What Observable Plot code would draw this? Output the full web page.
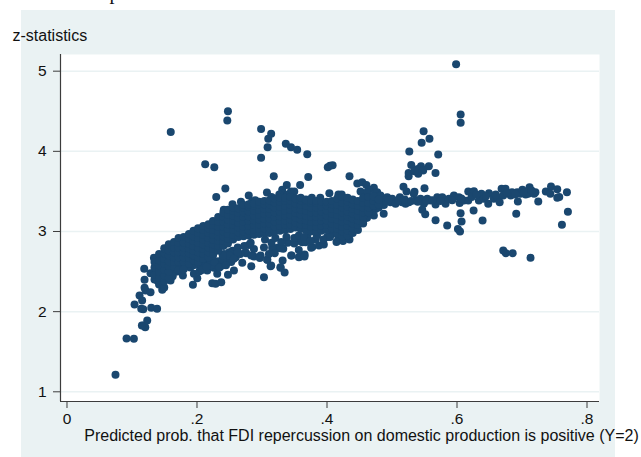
<!DOCTYPE html>
<html>
<head>
<meta charset="utf-8">
<script src="https://cdn.jsdelivr.net/npm/d3@7"></script>
<script src="https://cdn.jsdelivr.net/npm/@observablehq/plot@0.6"></script>
<style>
html,body{margin:0;padding:0;background:#fff;overflow:hidden}
#panel{position:absolute;left:21px;top:10px;width:594px;height:447px;background:#eaf2f3}
#chart{position:absolute;left:0;top:0}
#chart svg{background:transparent;display:block}
</style>
</head>
<body>
<div id="panel"></div>
<div id="chart"></div>
<script>
const yTicks = [1, 2, 3, 4, 5];
const xTicks = [0, 0.2, 0.4, 0.6, 0.8];
const xTitle = "Predicted prob. that FDI repercussion on domestic production is positive (Y=2)";
const yTitle = "z-statistics";

// isolated points above the main cloud
const upperPoints = [[.155,4.24],[.243,4.50],[.242,4.385],[.294,4.28],[.3095,4.22],[.305,4.157],[.304,4.05],[.294,3.92],
[.332,4.094],[.34,4.05],[.3495,4.02],[.365,3.965],[.208,3.84],[.222,3.80],[.3135,3.69],[.3665,3.68],[.239,3.535],[.225,3.43],
[.275,3.45],[.303,3.487],[.3335,3.58],[.3265,3.52],[.354,3.58],[.3265,3.48],[.34,3.5],[.345,3.5],[.2366,3.27],[.28,3.37],
[.594,5.087],[.601,4.46],[.601,4.356],[.544,4.25],[.553,4.157],[.541,4.107],[.522,3.998],[.5665,3.96],[.525,3.83],[.54,3.815],
[.535,3.78],[.552,3.815],[.5434,3.76],[.5623,3.73],[.521,3.73],[.521,3.69],[.5357,3.72],[.53,3.75],[.40,3.82],[.3966,3.80],[.404,3.825],
[.43,3.69],[.442,3.6],[.4495,3.615],[.456,3.58],[.4675,3.545],[.399,3.478],[.513,3.557],[.5177,3.5],[.5454,3.54],[.53,3.495],
[.413,3.46],[.418,3.46],[.447,3.5],[.46,3.52],[.47,3.48],[.25,3.34],[.263,3.37],[.285,3.39],[.31,3.43],[.322,3.46],[.335,3.46],[.372,3.42],[.385,3.42]];

// thin band on the right
const rightBand = [[.457,3.49],[.462,3.428],[.4726,3.49],[.4777,3.449],[.4829,3.387],[.488,3.428],[.493,3.366],[.4957,3.407],[.5008,3.345],
[.5075,3.428],[.511,3.366],[.5162,3.345],[.5213,3.366],[.529,3.47],[.5316,3.387],[.5393,3.407],[.5444,3.345],[.5496,3.407],[.5547,3.387],
[.5624,3.337],[.565,3.428],[.5727,3.428],[.5778,3.345],[.583,3.407],[.5906,3.449],[.5983,3.428],[.5995,3.355],[.606,3.387],[.6127,3.387],
[.6127,3.499],[.6214,3.503],[.629,3.387],[.633,3.47],[.6368,3.407],[.6434,3.345],[.6445,3.478],[.652,3.407],[.6573,3.428],[.661,3.366],
[.664,3.532],[.67,3.532],[.6665,3.449],[.678,3.449],[.68,3.49],[.688,3.49],[.689,3.374],[.693,3.47],[.696,3.52],[.701,3.461],[.707,3.553],
[.705,3.47],[.716,3.49],[.714,3.47],[.7204,3.374],[.732,3.5],[.74,3.561],[.739,3.47],[.7496,3.528],[.7496,3.42],[.7527,3.43],[.7645,3.49],
[.49,3.39],[.505,3.39],[.515,3.4],[.525,3.38],[.535,3.37],[.548,3.38],[.558,3.39],[.57,3.38],[.588,3.39],[.602,3.41],[.618,3.43],[.625,3.46],[.64,3.44],[.655,3.46],[.672,3.48],[.685,3.46],[.698,3.49],[.71,3.51]];

// isolated points below the right band
const lowerRight = [[.5419,3.27],[.5465,3.216],[.5624,3.141],[.5803,3.075],[.5968,3.03],[.6,3.0],[.6009,3.229],[.6024,3.125],[.6209,3.262],
[.6347,3.137],[.6865,3.22],[.766,3.245],[.7568,3.083],[.6665,2.763],[.6705,2.73],[.681,2.73],[.7085,2.672],[.47,3.28],[.4826,3.22],[.4675,3.2],[.452,3.15],[.457,3.17],[.475,3.3],[.483,3.33],[.46,3.25]];

// sparse tail and lower fringe of the cloud
const lowerFringe = [[.07,1.212],[.087,1.665],[.0983,1.661],[.1132,1.827],[.1158,1.806],[.1188,1.89],[.1106,1.827],[.125,2.048],[.134,2.035],
[.0993,2.089],[.1096,2.035],[.1127,2.031],[.107,2.2],[.111,2.139],[.1147,2.297],[.1163,2.264],[.1239,2.243],[.1147,2.397],[.1142,2.534],
[.1239,2.48],[.1291,2.672],[.1419,2.272],[.1342,2.389],[.1393,2.347],[.1547,2.389],[.1599,2.493],[.1737,2.451],[.1891,2.335],[.1958,2.418],
[.1906,2.472],[.1994,2.505],[.2112,2.513],[.2189,2.355],[.224,2.347],[.2327,2.368],[.2265,2.472],[.2214,2.547],[.2342,2.576],[.243,2.459],
[.2522,2.513],[.265,2.609],[.2789,2.567],[.2984,2.43],[.3086,2.567],[.3035,2.646],[.324,2.547],[.3302,2.488],[.3271,2.638],[.2932,2.7],
[.2984,2.8],[.2702,2.742],[.283,2.688],[.341,2.7],[.3522,2.68],[.361,2.713],[.3281,2.784],[.3189,2.796],[.3574,2.867],[.3728,2.805],
[.383,2.825],[.2708,2.73],[.2788,2.7],[.292,2.67],[.3034,2.647],[.3095,2.576],[.3238,2.555],[.3403,2.7],[.3535,2.688],[.3608,2.688],[.352,2.77],
[.371,2.797],[.3905,2.838],[.3238,2.79],[.311,2.796],[.3546,2.879],[.3623,2.867],[.3957,2.93],[.2,2.56],[.208,2.6],[.217,2.58],[.228,2.63],
[.24,2.66],[.248,2.62],[.255,2.68],[.25,2.76],[.258,2.8],[.262,2.72],[.245,2.74],[.237,2.72],[.275,2.83],[.283,2.78],[.306,2.72],[.315,2.73],
[.335,2.86],[.345,2.85],[.365,2.93],[.378,2.9],[.402,2.97],[.413,2.92],
[.165,2.5],[.17,2.56],[.178,2.58],[.185,2.55],[.195,2.6],[.203,2.52],[.21,2.56],[.215,2.65],[.222,2.62],[.23,2.55],[.235,2.65],[.24,2.58],
[.245,2.7],[.252,2.66],[.258,2.74],[.235,2.7],[.22,2.7],[.2,2.65],[.19,2.58],[.268,2.82],[.278,2.86],[.3,2.9],[.31,2.86],[.316,2.92],[.325,2.87],
[.333,2.93],[.345,2.92],[.352,2.95],[.36,2.93],[.37,2.88],[.38,2.95],[.39,2.9],[.4,2.93],[.41,2.87],[.42,2.88],[.43,2.9],[.14,2.44],[.148,2.48],[.158,2.44]];

// dense cloud, one [x, [z values]] row per column
const denseCloud = [
[.13,[2.4,2.46,2.55,2.62]],
[.137,[2.34,2.42,2.5,2.58,2.64,2.72]],
[.145,[2.3,2.38,2.45,2.52,2.6,2.66,2.73,2.79]],
[.152,[2.42,2.5,2.57,2.63,2.7,2.76,2.84]],
[.16,[2.56,2.62,2.68,2.74,2.8,2.87]],
[.167,[2.52,2.62,2.68,2.74,2.8,2.86,2.92]],
[.175,[2.53,2.62,2.68,2.74,2.8,2.86,2.93]],
[.183,[2.6,2.67,2.73,2.79,2.85,2.91,2.97]],
[.19,[2.64,2.7,2.76,2.82,2.88,2.94,3.01]],
[.197,[2.62,2.68,2.74,2.8,2.86,2.92,2.98,3.04]],
[.205,[2.66,2.72,2.78,2.84,2.9,2.96,3.02,3.07]],
[.213,[2.68,2.74,2.8,2.86,2.92,2.98,3.04,3.09]],
[.22,[2.72,2.78,2.84,2.9,2.96,3.02,3.08,3.13]],
[.228,[2.76,2.82,2.88,2.94,3,3.06,3.12,3.18]],
[.236,[2.82,2.88,2.94,3,3.06,3.12,3.18,3.24]],
[.243,[2.85,2.91,2.97,3.03,3.09,3.15,3.21,3.27]],
[.251,[2.9,2.96,3.02,3.08,3.14,3.2,3.26,3.3]],
[.259,[2.93,2.99,3.05,3.11,3.17,3.23,3.29]],
[.267,[2.94,3,3.06,3.12,3.18,3.24,3.3,3.33]],
[.275,[2.95,3.01,3.07,3.13,3.19,3.25,3.31,3.34]],
[.283,[2.96,3.02,3.08,3.14,3.2,3.26,3.32,3.35]],
[.291,[2.97,3.03,3.09,3.15,3.21,3.27,3.33,3.37]],
[.299,[2.98,3.04,3.1,3.16,3.22,3.28,3.34,3.38]],
[.307,[2.98,3.04,3.1,3.16,3.22,3.28,3.34,3.39]],
[.315,[3,3.06,3.12,3.18,3.24,3.3,3.36,3.41]],
[.323,[3.01,3.07,3.13,3.19,3.25,3.31,3.37,3.42]],
[.331,[3.02,3.08,3.14,3.2,3.26,3.32,3.38,3.42]],
[.339,[3.03,3.09,3.15,3.21,3.27,3.33,3.39,3.43]],
[.347,[3.05,3.11,3.17,3.23,3.29,3.35,3.41]],
[.355,[3.03,3.09,3.15,3.21,3.27,3.33,3.39,3.42]],
[.363,[3.02,3.08,3.14,3.2,3.26,3.32,3.38,3.4]],
[.371,[3,3.06,3.12,3.18,3.24,3.3,3.36,3.39]],
[.379,[3,3.06,3.12,3.18,3.24,3.3,3.36,3.38]],
[.387,[3.01,3.07,3.13,3.19,3.25,3.31,3.37]],
[.395,[3.02,3.08,3.14,3.2,3.26,3.32,3.37]],
[.403,[3.04,3.1,3.16,3.22,3.28,3.34,3.38]],
[.411,[2.97,3.03,3.09,3.15,3.21,3.27,3.33,3.41]],
[.419,[2.94,3,3.06,3.12,3.18,3.24,3.3,3.36,3.43]],
[.427,[2.95,3.01,3.07,3.13,3.19,3.25,3.31,3.37,3.42]],
[.435,[2.98,3.04,3.1,3.16,3.22,3.28,3.34,3.4]],
[.443,[3.02,3.08,3.14,3.2,3.26,3.32,3.38]],
[.451,[3.1,3.18,3.24,3.3,3.36,3.42]],
[.459,[3.24,3.3,3.36,3.43]],
[.467,[3.32,3.38,3.44]],
[.475,[3.34,3.4]]
];

const points = [
  ...upperPoints, ...rightBand, ...lowerRight, ...lowerFringe,
  ...denseCloud.flatMap(([x, zs]) => zs.map(z => [x, z]))
].map(([x, z]) => ({x, z}));

const fmt = d => d === 0 ? "0" : String(d).replace(/^0/, "");
const navy = "#1a476f";
const xDomain = [-0.0146, 0.8146];
const yDomain = [0.879, 5.208];

const chart = Plot.plot({
  width: 641, height: 457,
  marginLeft: 60, marginRight: 42, marginTop: 54, marginBottom: 56,
  style: {background: "transparent", fontFamily: "'Liberation Sans', Arial, sans-serif"},
  x: {domain: xDomain},
  y: {domain: yDomain},
  marks: [
    Plot.frame({fill: "white", stroke: "none"}),
    Plot.gridY(yTicks, {stroke: "#eaf2f3", strokeOpacity: 1, strokeWidth: 1.5}),
    Plot.ruleX([xDomain[0]], {stroke: "#3c3c3c", strokeWidth: 1.2}),
    Plot.ruleY([yDomain[0]], {stroke: "#3c3c3c", strokeWidth: 1.2}),
    Plot.axisX({ticks: xTicks, tickFormat: fmt, tickSize: 7, tickPadding: 4, fontSize: 15.5, dx: -3, label: null, stroke: "#3c3c3c", color: "#111"}),
    Plot.axisY({ticks: yTicks, tickFormat: fmt, tickSize: 7, tickPadding: 7, fontSize: 15.5, label: null, stroke: "#3c3c3c", color: "#111"}),
    Plot.dot(points, {x: "x", y: "z", r: 4, fill: navy, stroke: "none"}),
    Plot.text([yTitle], {frameAnchor: "top-left", dx: -48, dy: -25, textAnchor: "start", fontSize: 16, fill: "#111"}),
    Plot.text([xTitle], {frameAnchor: "bottom", dx: 31.5, dy: 39, fontSize: 16, fill: "#111"}),
    Plot.text(["p"], {frameAnchor: "top-left", dx: 49, dy: -70, textAnchor: "start", fontSize: 20, fontFamily: "'Liberation Serif', serif", fill: "#111"})
  ]
});
document.getElementById("chart").appendChild(chart);
</script>
</body>
</html>
